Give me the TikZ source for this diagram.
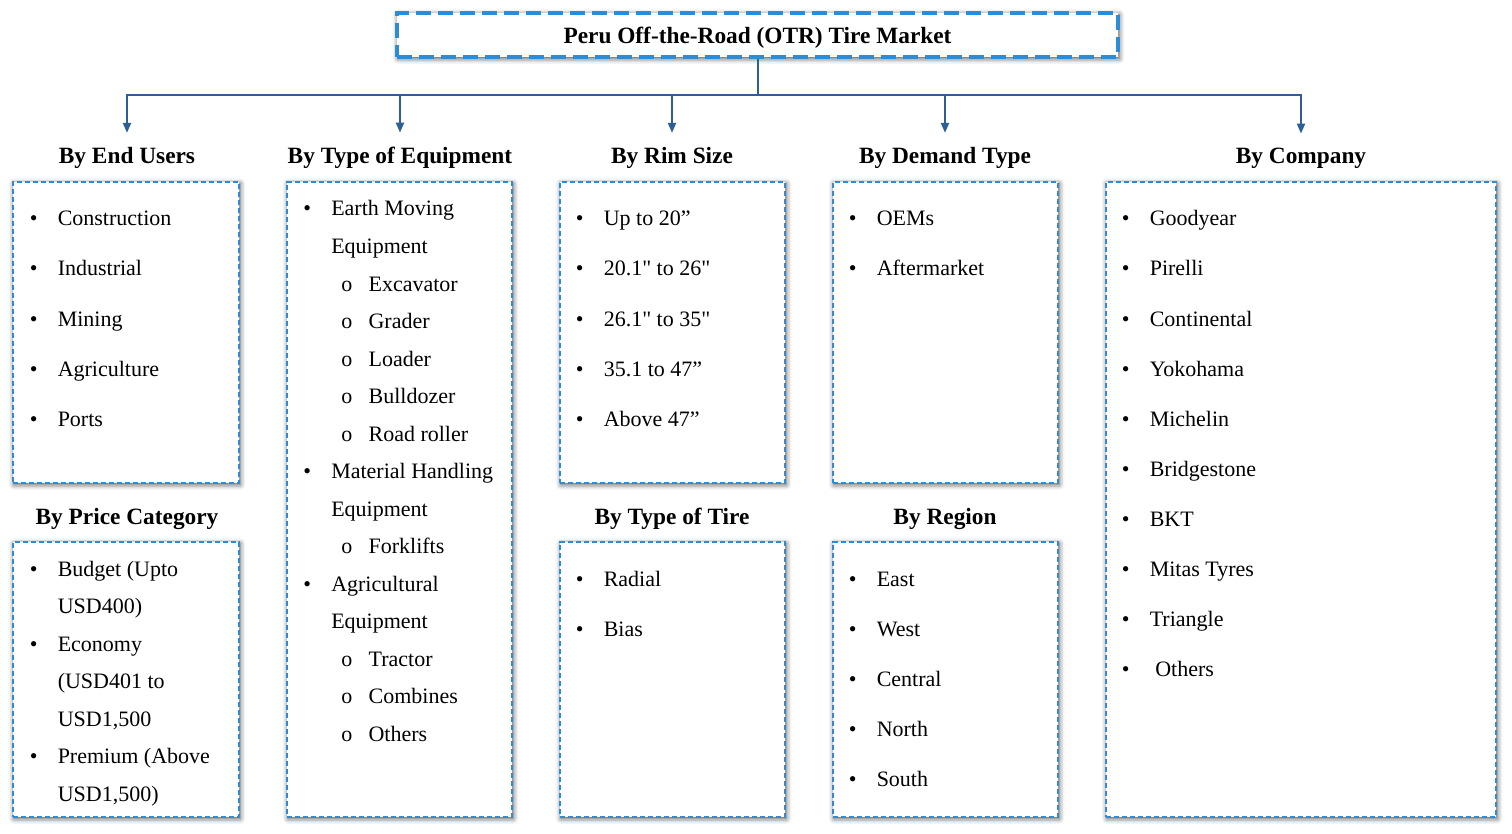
\documentclass[tikz,border=0pt]{standalone}
\usepackage{fontspec}
\setmainfont{Liberation Serif}
\usetikzlibrary{arrows.meta,shadows.blur,fit}

\definecolor{boxblue}{RGB}{44,140,214}
\definecolor{linkblue}{RGB}{46,94,150}
\newcommand{\bitem}[1]{\makebox[21pt][l]{\textbullet}#1}
\newcommand{\citem}[1]{\hspace{21pt}#1}
\newcommand{\sitem}[1]{\hspace{28.5pt}\makebox[20.5pt][l]{o}#1}
\newcommand{\inch}{\textquotedbl}

\begin{document}
\begin{tikzpicture}
		[x=0.75pt,y=-0.75pt,
		every node/.style={inner sep=0pt,font=\fontsize{16.5}{20}\selectfont},
		box/.style={draw=boxblue,fill=white,line width=1.2pt,dash pattern=on 4pt off 2pt,
			blur shadow={shadow xshift=0.8pt,shadow yshift=-1.2pt,shadow blur radius=4pt,shadow opacity=70}},
		topbox/.style={box,line width=2.8pt,dash pattern=on 11pt off 5.5pt},
		head/.style={anchor=base,font=\bfseries\fontsize{17.5}{21}\selectfont},
		item/.style={anchor=base west},
		link/.style={draw=linkblue,line width=1.5pt,shorten >=11pt,
			-{Triangle[length=7.5pt,width=6pt]}}]
		\useasboundingbox (0,0) rectangle (1512,834);
		% title and bus line
		\node[topbox,fit={(397,13) (1118,57)},
			label={[font=\bfseries\fontsize{17.5}{21}\selectfont,yshift=-1.8pt]center:Peru Off-the-Road (OTR) Tire Market}] (title) {};
		\coordinate (bus) at (757.5,95);
		% headings
		\foreach \n/\x/\y/\t in {h1/127/164/By End Users, h2/400/164/By Type of Equipment,
			h3/672/164/By Rim Size, h4/945/164/By Demand Type, h5/1301/164/By Company,
			h6/127/524/By Price Category, h7/672/524/By Type of Tire, h8/945/524/By Region}
		{
			\node[head] (\n) at (\x,\y) {\t};
		}
		\foreach \n in {h1,h2,h3,h4,h5}
		{
			\draw[link] (title.south) -- (bus) -| (\n.north);
		}
		% boxes
		\node[box,fit={(13,182) (239,483)}] (eu) {};
		\node[box,fit={(287,182) (512,817)}] (eq) {};
		\node[box,fit={(560,182) (785,483)}] (rim) {};
		\node[box,fit={(833,182) (1058,483)}] (dem) {};
		\node[box,fit={(1106,182) (1496,817)}] (com) {};
		\node[box,fit={(13,542) (239,817)}] (pr) {};
		\node[box,fit={(560,542) (785,817)}] (tire) {};
		\node[box,fit={(833,542) (1058,817)}] (reg) {};
		% lists
		\foreach \t [count=\i] in {Construction,Industrial,Mining,Agriculture,Ports}
			\node[item] (eu\i) at (29.5,176+50*\i) {\bitem{\t}};
		\foreach \t [count=\i] in {{\bitem{Earth Moving}},{\citem{Equipment}},{\sitem{Excavator}},
			{\sitem{Grader}},{\sitem{Loader}},{\sitem{Bulldozer}},{\sitem{Road roller}},
			{\bitem{Material Handling}},{\citem{Equipment}},{\sitem{Forklifts}},
			{\bitem{Agricultural}},{\citem{Equipment}},{\sitem{Tractor}},{\sitem{Combines}},
			{\sitem{Others}}}
			\node[item] (eq\i) at (303,178.5+37.5*\i) {\t};
		\foreach \t [count=\i] in {Up to 20”,20.1\inch{} to 26\inch,26.1\inch{} to 35\inch,
			35.1 to 47”,Above 47”}
			\node[item] (rim\i) at (575.5,176+50*\i) {\bitem{\t}};
		\foreach \t [count=\i] in {OEMs,Aftermarket}
			\node[item] (dem\i) at (848.5,176+50*\i) {\bitem{\t}};
		\foreach \t [count=\i] in {Goodyear,Pirelli,Continental,Yokohama,Michelin,
			Bridgestone,BKT,Mitas Tyres,Triangle,\ Others}
			\node[item] (com\i) at (1121.5,176+50*\i) {\bitem{\t}};
		\foreach \t [count=\i] in {{\bitem{Budget (Upto}},{\citem{USD400)}},{\bitem{Economy}},
			{\citem{(USD401 to}},{\citem{USD1,500}},{\bitem{Premium (Above}},{\citem{USD1,500)}}}
			\node[item] (pr\i) at (29.5,538.5+37.5*\i) {\t};
		\foreach \t [count=\i] in {Radial,Bias}
			\node[item] (tire\i) at (575.5,536+50*\i) {\bitem{\t}};
		\foreach \t [count=\i] in {East,West,Central,North,South}
			\node[item] (reg\i) at (848.5,536+50*\i) {\bitem{\t}};
		\end{tikzpicture}
\end{document}
